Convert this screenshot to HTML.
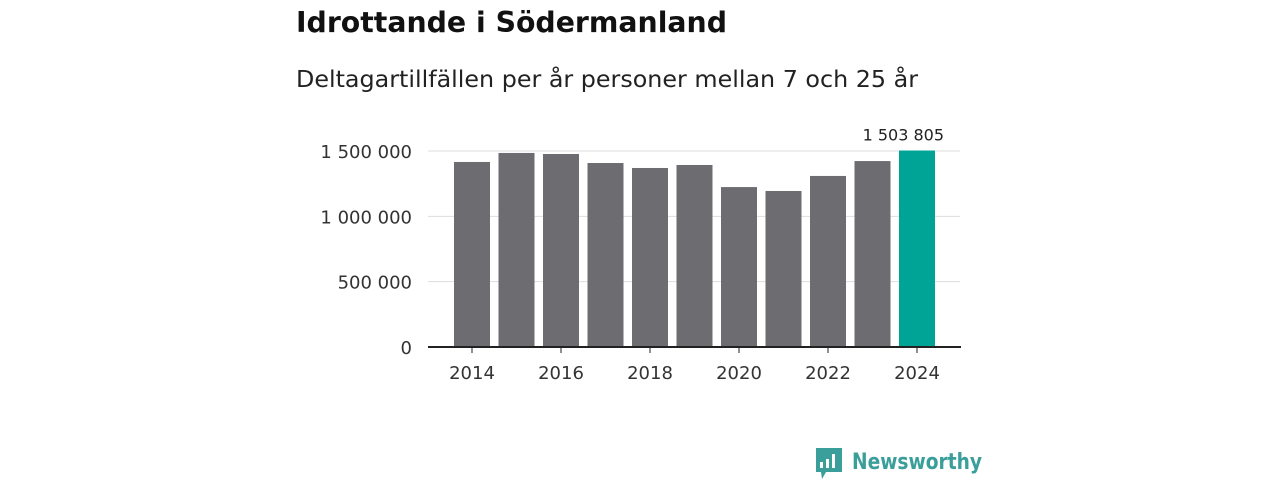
<!DOCTYPE html>
<html><head><meta charset="utf-8"><style>
body{margin:0;width:1280px;height:480px;background:#fff;font-family:"DejaVu Sans","Liberation Sans",sans-serif;overflow:hidden}
</style></head><body>
<svg width="1280" height="480">
<text x="296" y="32" font-size="28.5" font-weight="bold" fill="#111" textLength="431" lengthAdjust="spacingAndGlyphs">Idrottande i Södermanland</text>
<text x="296" y="87" font-size="23" fill="#222" textLength="622" lengthAdjust="spacingAndGlyphs">Deltagartillfällen per år personer mellan 7 och 25 år</text>
<g id="plot"></g>
<g>
<path d="M816 448h26v24h-16l-4 7-1-7h-5z" fill="#3a9e9a"/>
<rect x="820" y="462" width="3" height="6" fill="#fff"/><rect x="826" y="459" width="3" height="9" fill="#fff"/><rect x="832" y="454" width="3" height="14" fill="#fff"/>
<text x="852" y="469" font-size="22" font-weight="bold" fill="#3a9e9a" textLength="130" lengthAdjust="spacingAndGlyphs">Newsworthy</text>
</g>
</svg>
<script>
const years=[2014,2015,2016,2017,2018,2019,2020,2021,2022,2023,2024];
const values=[1416000,1485000,1477000,1408000,1370000,1393000,1224000,1194000,1309000,1423000,1503805];
const yTicks=[0,500000,1000000,1500000];
const xTickYears=[2014,2016,2018,2020,2022,2024];
const ns="http://www.w3.org/2000/svg",g=document.getElementById('plot');
const y0=347,yScale=v=>y0-v/1500000*196,xc=i=>472+i*44.5,fmt=v=>v.toLocaleString('en').replace(/,/g,' ');
function mk(t,a,txt){const e=document.createElementNS(ns,t);for(const k in a)e.setAttribute(k,a[k]);if(txt!=null)e.textContent=txt;g.appendChild(e);return e;}
yTicks.forEach(v=>{
 if(v>0){const l=mk('line',{x1:428,x2:960,y1:yScale(v),y2:yScale(v),stroke:'#ddd'});
 
 }
 const t=mk('text',{x:412,y:yScale(v)+7,'text-anchor':'end','font-size':18,fill:'#333'},fmt(v));
 
 
});
values.forEach((v,i)=>{
 const last=i===values.length-1;
 const r=mk('rect',{x:xc(i)-18,y:yScale(v),width:36,height:y0-yScale(v),fill:last?'#00a497':'#6d6c71'});
 
 
 if(last){const t=mk('text',{x:xc(i)+27,y:yScale(v)-10,'text-anchor':'end','font-size':16,fill:'#222'},fmt(v));
 
 }
});
const ax=mk('line',{x1:428,x2:961,y1:y0,y2:y0,stroke:'#222','stroke-width':2});


xTickYears.forEach(yr=>{
 const i=years.indexOf(yr);
 const tk=mk('line',{x1:xc(i),x2:xc(i),y1:y0,y2:y0+6,stroke:'#222'});
 
 
 const t=mk('text',{x:xc(i),y:379,'text-anchor':'middle','font-size':18,fill:'#333'},String(yr));
 
 
});
</script>
</body></html>
